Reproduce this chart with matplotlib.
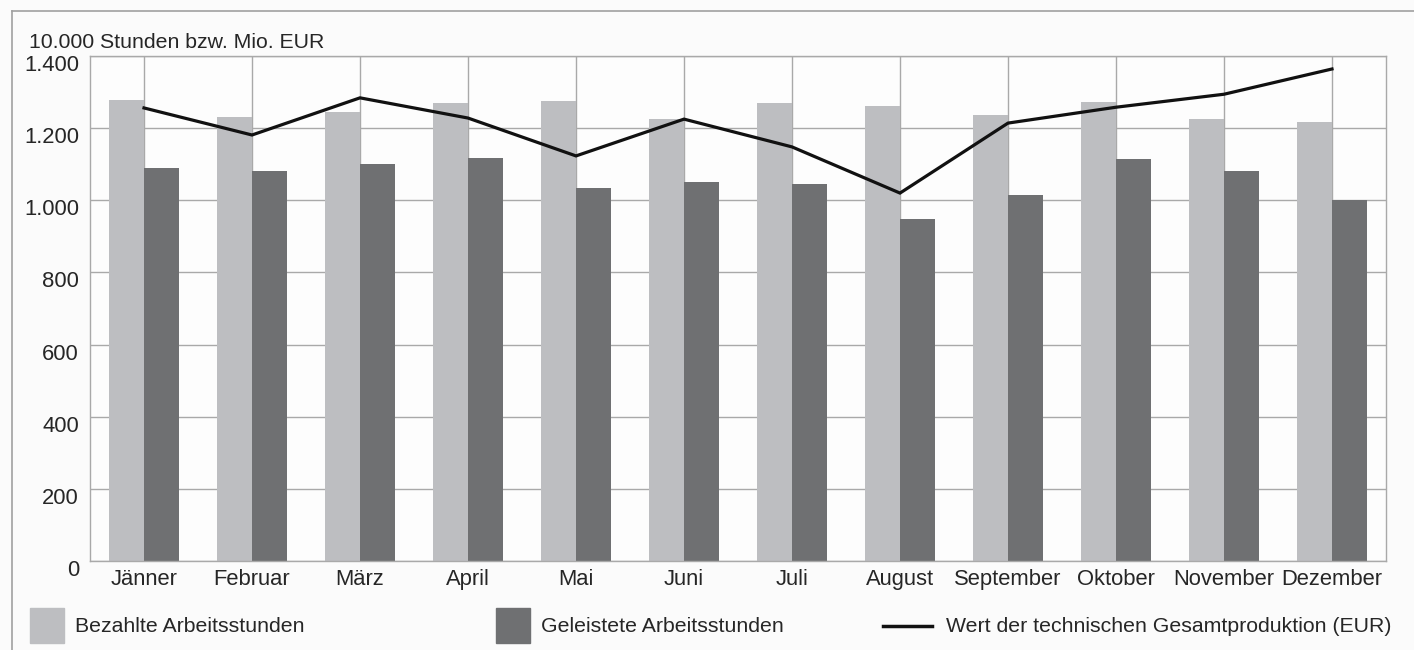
import matplotlib
matplotlib.use('Agg')
import matplotlib.pyplot as plt
import matplotlib.patches as mpatches
import matplotlib.transforms as mtransforms
from matplotlib.lines import Line2D
import numpy as np

plt.rcParams['font.family'] = ['Liberation Sans', 'DejaVu Sans']

months = ['Jänner', 'Februar', 'März', 'April', 'Mai', 'Juni', 'Juli',
          'August', 'September', 'Oktober', 'November', 'Dezember']
bezahlt = [1278, 1231, 1245, 1270, 1275, 1225, 1270, 1262, 1237, 1273, 1226, 1218]
geleistet = [1090, 1082, 1101, 1118, 1034, 1051, 1045, 948, 1015, 1115, 1082, 1001]
produktion = [1256, 1181, 1284, 1228, 1123, 1225, 1148, 1020, 1214, 1258, 1294, 1364]
yticks = [0, 200, 400, 600, 800, 1000, 1200, 1400]
ylabels = ['0', '200', '400', '600', '800', '1.000', '1.200', '1.400']

light = '#bdbec1'
dark = '#6f7072'
gridc = '#a9a9a9'
txtc = '#262626'

fig = plt.figure(figsize=(14.14, 6.5), dpi=100, facecolor='#fbfbfb')
ax = fig.add_axes([90/1414, 1 - 561/650, 1296/1414, 505/650])
ax.set_facecolor('#fdfdfd')

x = np.arange(len(months))
w = 0.324
ax.bar(x - w/2, bezahlt, w, color=light, zorder=2)
ax.bar(x + w/2, geleistet, w, color=dark, zorder=2)
ax.plot(x, produktion, color='#111111', lw=2.3, zorder=3, solid_joinstyle='miter')

ax.set_xlim(-0.5, 11.5)
ax.set_ylim(0, 1400)
ax.set_yticks(yticks)
ax.set_yticklabels(ylabels)
ax.set_xticks(x)
ax.set_xticklabels(months)
ax.tick_params(length=0, labelsize=15.8, colors=txtc)
ax.tick_params(axis='y', pad=8)
ax.tick_params(axis='x', pad=6)
ax.grid(True, color=gridc, lw=1.0, zorder=1)
for s in ax.spines.values():
    s.set_color(gridc)
    s.set_linewidth(1.0)

# y labels sit a little below their gridline, like in the original
shift = mtransforms.ScaledTranslation(0, -7/100, fig.dpi_scale_trans)
for lab in ax.get_yticklabels():
    lab.set_transform(lab.get_transform() + shift)

fig.text(29/1414, 1 - 42/650, '10.000 Stunden bzw. Mio. EUR', fontsize=15.3,
         color=txtc, va='center', ha='left')

# outer frame (top and left edge)
fig.add_artist(Line2D([12/1414, 1], [1 - 11/650, 1 - 11/650], transform=fig.transFigure,
                      color='#a0a0a0', lw=1.2))
fig.add_artist(Line2D([12/1414, 12/1414], [0, 1 - 11/650], transform=fig.transFigure,
                      color='#a0a0a0', lw=1.2))

# legend
ly = 1 - 626/650
fig.add_artist(mpatches.Rectangle((30/1414, 1 - 643/650), 34/1414, 35/650,
                                  transform=fig.transFigure, color=light))
fig.text(75/1414, ly, 'Bezahlte Arbeitsstunden', fontsize=15.3, color=txtc, va='center')
fig.add_artist(mpatches.Rectangle((496/1414, 1 - 643/650), 34/1414, 35/650,
                                  transform=fig.transFigure, color=dark))
fig.text(541/1414, ly, 'Geleistete Arbeitsstunden', fontsize=15.3, color=txtc, va='center')
fig.add_artist(Line2D([883/1414, 932/1414], [ly, ly], transform=fig.transFigure,
                      color='#111111', lw=2.5))
fig.text(946/1414, ly, 'Wert der technischen Gesamtproduktion (EUR)', fontsize=15.3,
         color=txtc, va='center')

fig.savefig('out.png', dpi=100, facecolor=fig.get_facecolor())
